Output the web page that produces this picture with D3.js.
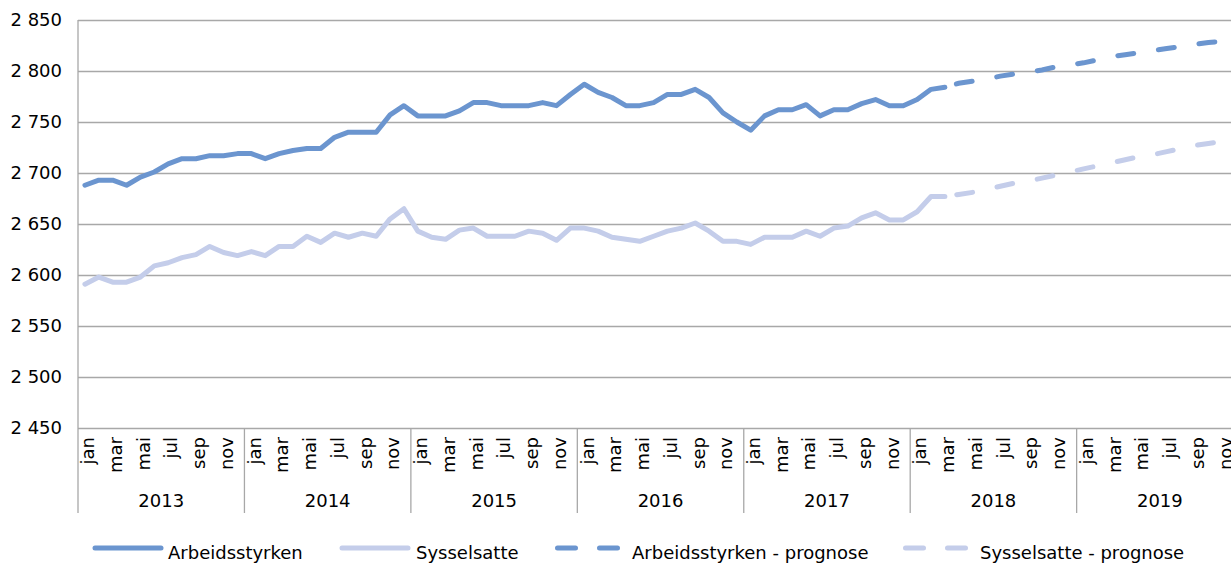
<!DOCTYPE html>
<html>
<head>
<meta charset="utf-8">
<script src="https://cdn.jsdelivr.net/npm/d3@7"></script>
<style>
  html, body { margin: 0; padding: 0; background: #fff; overflow: hidden; }
  svg { display: block; font-family: "DejaVu Sans", sans-serif; }
</style>
</head>
<body>
<svg id="chart" width="1231" height="563"></svg>
<script>
// ---- data ----
const years = [2013, 2014, 2015, 2016, 2017, 2018, 2019];
const monthNames = ["jan", "feb", "mar", "apr", "mai", "jun", "jul", "aug", "sep", "okt", "nov", "des"];
const yTicks = [2450, 2500, 2550, 2600, 2650, 2700, 2750, 2800, 2850];

// Actual values, jan 2013 - mar 2018
const arbeidsstyrken = [
  2688, 2693, 2693, 2688, 2696, 2701, 2709, 2714, 2714, 2717, 2717, 2719,
  2719, 2714, 2719, 2722, 2724, 2724, 2735, 2740, 2740, 2740, 2757, 2766,
  2756, 2756, 2756, 2761, 2769, 2769, 2766, 2766, 2766, 2769, 2766, 2777,
  2787, 2779, 2774, 2766, 2766, 2769, 2777, 2777, 2782, 2774, 2759, 2750,
  2742, 2756, 2762, 2762, 2767, 2756, 2762, 2762, 2768, 2772, 2766, 2766,
  2772, 2782, 2784
];
const sysselsatte = [
  2591, 2598, 2593, 2593, 2598, 2609, 2612, 2617, 2620, 2628, 2622, 2619,
  2623, 2619, 2628, 2628, 2638, 2632, 2641, 2637, 2641, 2638, 2655, 2665,
  2643, 2637, 2635, 2644, 2646, 2638, 2638, 2638, 2643, 2641, 2634, 2646,
  2646, 2643, 2637, 2635, 2633, 2638, 2643, 2646, 2651, 2643, 2633, 2633,
  2630, 2637, 2637, 2637, 2643, 2638, 2646, 2648, 2656, 2661, 2654, 2654,
  2662, 2677, 2677
];
// Forecast values, mar 2018 - des 2019
const prognoseStart = "mar 2018";
const arbeidsstyrkenPrognose = [
  2784, 2788, 2790, 2792, 2795, 2797, 2799, 2801, 2804, 2806,
  2808, 2811, 2814, 2816, 2818, 2820, 2822, 2824, 2826, 2828, 2829, 2831
];
const sysselsattePrognose = [
  2677, 2679, 2681, 2684, 2687, 2690, 2692, 2695, 2698, 2701,
  2704, 2707, 2710, 2713, 2716, 2718, 2721, 2724, 2727, 2729, 2731, 2733
];
const seriesNames = ["Arbeidsstyrken", "Sysselsatte", "Arbeidsstyrken - prognose", "Sysselsatte - prognose"];

(function () {
// ---- layout ----
const months = years.flatMap(yr => monthNames.map(m => `${m} ${yr}`));
const svg = d3.select("#chart");
const pLeft = 78, pTop = 20, pBottom = 428, axisBottomEnd = 513;
const pRight = pLeft + 84 * 13.87;
const darkBlue = "#6b95cf", lightBlue = "#c4cdea", gridColor = "#a8a8a8";
const fs = 18;

const x = d3.scaleBand().domain(months).range([pLeft, pRight]).padding(0);
const xc = m => x(m) + x.bandwidth() / 2;
const xYear = d3.scaleBand().domain(years).range([pLeft, pRight]).padding(0);
const y = d3.scaleLinear().domain([2450, 2850]).range([pBottom, pTop]);

const fmt = v => d3.format(",")(v).replace(/,/g, " ");

// grid + y labels
const yAxis = d3.axisLeft(y).tickValues(yTicks).tickSize(-(pRight - pLeft)).tickPadding(16).tickFormat(fmt);
const gy = svg.append("g").attr("transform", `translate(${pLeft},0)`).call(yAxis);
gy.select(".domain").remove();
gy.selectAll(".tick line").attr("stroke", gridColor).attr("stroke-width", 1.3);
gy.selectAll(".tick text").attr("font-size", fs).attr("fill", "#000").attr("font-family", "DejaVu Sans");

// left axis line
svg.append("line").attr("x1", pLeft).attr("x2", pLeft).attr("y1", pTop).attr("y2", axisBottomEnd)
  .attr("stroke", gridColor).attr("stroke-width", 1.3);

// month labels
const monthTicks = months.filter((m, i) => i % 2 === 0);
const xAxis = d3.axisBottom(x).tickValues(monthTicks).tickSize(0).tickFormat(m => m.split(" ")[0]);
const gx = svg.append("g").attr("transform", `translate(0,${pBottom})`).call(xAxis);
gx.select(".domain").remove();
gx.selectAll(".tick text")
  .attr("font-size", fs).attr("fill", "#000").attr("font-family", "DejaVu Sans")
  .attr("transform", "rotate(-90)")
  .attr("text-anchor", "end")
  .attr("x", -9).attr("y", 3).attr("dy", "0.35em");

// year separators
svg.append("g").selectAll("line").data(years.slice(1)).join("line")
  .attr("x1", d => xYear(d)).attr("x2", d => xYear(d))
  .attr("y1", pBottom).attr("y2", axisBottomEnd)
  .attr("stroke", gridColor).attr("stroke-width", 1.3);

// year labels
const yearAxis = d3.axisBottom(xYear).tickSize(0).tickFormat(d => String(d));
const gyr = svg.append("g").attr("transform", `translate(0,${pBottom})`).call(yearAxis);
gyr.select(".domain").remove();
gyr.selectAll(".tick text").attr("font-size", fs).attr("fill", "#000").attr("font-family", "DejaVu Sans")
  .attr("y", 79).attr("dy", "0");

// lines
const line = d3.line().x(d => xc(d.m)).y(d => y(d.v));
const startIdx = months.indexOf(prognoseStart);
const actual = arr => arr.map((v, i) => ({ m: months[i], v }));
const forecast = arr => arr.map((v, i) => ({ m: months[startIdx + i], v }));

const lw = 5;
const plot = svg.append("g");
plot.append("path").datum(forecast(sysselsattePrognose)).attr("d", line)
  .attr("fill", "none").attr("stroke", lightBlue).attr("stroke-width", lw)
  .attr("stroke-linecap", "round").attr("stroke-dasharray", "16,25").attr("stroke-dashoffset", 29);
plot.append("path").datum(forecast(arbeidsstyrkenPrognose)).attr("d", line)
  .attr("fill", "none").attr("stroke", darkBlue).attr("stroke-width", lw)
  .attr("stroke-linecap", "round").attr("stroke-dasharray", "16,25").attr("stroke-dashoffset", 29);
plot.append("path").datum(actual(sysselsatte)).attr("d", line)
  .attr("fill", "none").attr("stroke", lightBlue).attr("stroke-width", lw)
  .attr("stroke-linejoin", "round").attr("stroke-linecap", "round");
plot.append("path").datum(actual(arbeidsstyrken)).attr("d", line)
  .attr("fill", "none").attr("stroke", darkBlue).attr("stroke-width", lw)
  .attr("stroke-linejoin", "round").attr("stroke-linecap", "round");

// legend
const legendItems = [
  { name: seriesNames[0], color: darkBlue, dash: null, x1: 95, x2: 161, tx: 168 },
  { name: seriesNames[1], color: lightBlue, dash: null, x1: 342, x2: 408, tx: 416 },
  { name: seriesNames[2], color: darkBlue, dash: "18,24", x1: 557.5, x2: 620, tx: 632 },
  { name: seriesNames[3], color: lightBlue, dash: "18,24", x1: 905.5, x2: 968, tx: 980 }
];
const lg = svg.append("g").selectAll("g").data(legendItems).join("g");
lg.append("line").attr("x1", d => d.x1).attr("x2", d => d.x2).attr("y1", 548).attr("y2", 548)
  .attr("stroke", d => d.color).attr("stroke-width", 5).attr("stroke-linecap", "round")
  .attr("stroke-dasharray", d => d.dash);
lg.append("text").attr("x", d => d.tx).attr("y", 559).attr("font-size", fs).attr("fill", "#000")
  .text(d => d.name);
})();
</script>
</body>
</html>
